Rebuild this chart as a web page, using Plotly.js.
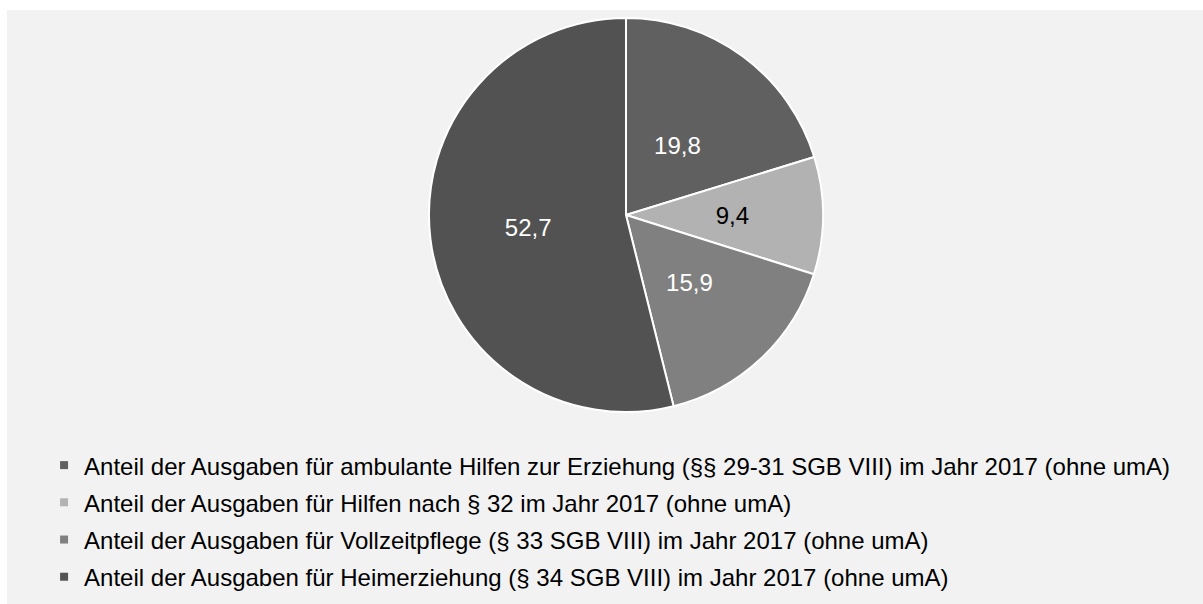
<!DOCTYPE html>
<html>
<head>
<meta charset="utf-8">
<script src="https://cdn.plot.ly/plotly-3.0.1.min.js"></script>
<style>
  html, body { margin: 0; padding: 0; background: #ffffff; width: 1203px; height: 604px; overflow: hidden; }
  #chart { position: absolute; left: 7px; top: 10px; width: 1196px; height: 594px; }
</style>
</head>
<body>
<div id="chart"></div>
<script>
const labels = [
  "Anteil der Ausgaben für ambulante Hilfen zur Erziehung (§§ 29-31 SGB VIII) im Jahr 2017 (ohne umA)",
  "Anteil der Ausgaben für Hilfen nach § 32 im Jahr 2017 (ohne umA)",
  "Anteil der Ausgaben für Vollzeitpflege (§ 33 SGB VIII) im Jahr 2017 (ohne umA)",
  "Anteil der Ausgaben für Heimerziehung (§ 34 SGB VIII) im Jahr 2017 (ohne umA)"
];
const values = [19.8, 9.4, 15.9, 52.7];
const colors = ["#606060", "#b2b2b2", "#808080", "#525252"];
const textColors = ["#ffffff", "#000000", "#ffffff", "#ffffff"];

const FONT = "Liberation Sans, Arial, sans-serif";
const TPL = "%{value:.1f}";

// main pie: slices, label only on the large slice
const pie = {
  type: "pie",
  labels: labels,
  values: values,
  sort: false,
  direction: "clockwise",
  rotation: 0,
  marker: { colors: colors, line: { color: "#ffffff", width: 2 } },
  texttemplate: values.map((v, i) => (v > 50 ? TPL : "")),
  textposition: "inside",
  insidetextorientation: "horizontal",
  insidetextfont: { family: FONT, size: 24, color: textColors },
  hoverinfo: "none",
  showlegend: false,
  domain: { x: [0.3528, 0.6823], y: [0.3232, 0.9865] }
};

// transparent concentric pie carrying the labels of the smaller slices
const labelPie = {
  type: "pie",
  labels: labels,
  values: values,
  sort: false,
  direction: "clockwise",
  rotation: 0,
  marker: { colors: values.map(() => "rgba(0,0,0,0)"), line: { width: 0 } },
  texttemplate: values.map((v, i) => (v > 50 ? "" : TPL)),
  textposition: "inside",
  insidetextorientation: "horizontal",
  insidetextfont: { family: FONT, size: 24, color: textColors },
  hoverinfo: "none",
  showlegend: false,
  domain: { x: [0.4022, 0.6329], y: [0.4226, 0.8872] }
};

const legendTraces = labels.map((lab, i) => ({
  type: "scatter",
  mode: "markers",
  x: [null],
  y: [null],
  name: lab,
  legendgroup: "g" + i,
  marker: { symbol: "square", size: 8, color: colors[i] },
  hoverinfo: "none",
  showlegend: true
}));

const layout = {
  width: 1196,
  height: 594,
  margin: { l: 0, r: 0, t: 0, b: 0 },
  paper_bgcolor: "#f2f2f2",
  plot_bgcolor: "#f2f2f2",
  separators: ",.",
  font: { family: FONT, size: 24, color: "#000000" },
  xaxis: { visible: false },
  yaxis: { visible: false },
  showlegend: true,
  legend: {
    orientation: "v",
    x: 0.031,
    xanchor: "left",
    y: 0.271,
    yanchor: "top",
    traceorder: "grouped",
    tracegroupgap: 3,
    bgcolor: "rgba(0,0,0,0)",
    font: { family: FONT, size: 24, color: "#000000" },
    itemclick: false,
    itemdoubleclick: false
  }
};

Plotly.newPlot("chart", [pie, labelPie].concat(legendTraces), layout, { displayModeBar: false, staticPlot: true });
</script>
</body>
</html>
